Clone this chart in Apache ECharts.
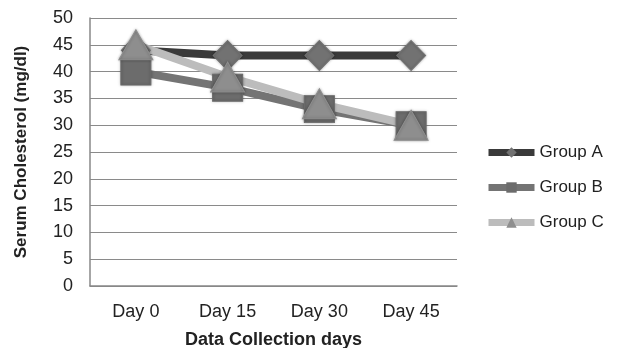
<!DOCTYPE html>
<html><head><meta charset="utf-8">
<script src="https://cdn.jsdelivr.net/npm/echarts@6/dist/echarts.min.js"></script>
<style>html,body{margin:0;padding:0;background:#fff}#c{width:620px;height:348px}</style>
</head><body><div id="c"></div>
<script>
const categories = ['Day 0', 'Day 15', 'Day 30', 'Day 45'];
const groupA = [44, 43, 43, 43];
const groupB = [40, 37, 33, 30];
const groupC = [45, 39, 34, 30];
const yTicks = [0, 5, 10, 15, 20, 25, 30, 35, 40, 45, 50];

const chart = echarts.init(document.getElementById('c'), null, {renderer: 'canvas'});
const font = 'Liberation Sans, Arial, sans-serif';
function mk(name, data, lineColor, markColor, symbol, size) {
  return {
    name, type: 'line', data, symbol, symbolSize: size,
    lineStyle: {color: lineColor, width: 8},
    itemStyle: {color: markColor, borderColor: markColor, shadowColor: 'rgba(0,0,0,0.3)', shadowBlur: 3},
    color: lineColor,
    z: 2
  };
}
chart.setOption({
  animation: false,
  grid: {left: 90, right: 163, top: 18, bottom: 62, containLabel: false, outerBoundsMode: 'none'},
  legend: {
    orient: 'vertical', left: 480, top: 139, itemGap: 18,
    itemWidth: 46, itemHeight: 13,
    lineStyle: {width: 7},
    textStyle: {fontFamily: font, fontSize: 17, color: '#222'},
    data: ['Group A', 'Group B', 'Group C']
  },
  xAxis: {
    type: 'category', data: categories, boundaryGap: true,
    name: 'Data Collection days', nameLocation: 'middle', nameGap: 45,
    nameTextStyle: {fontFamily: font, fontSize: 18, fontWeight: 'bold', color: '#222'},
    axisLine: {lineStyle: {color: '#888', width: 1.5}},
    axisTick: {show: false},
    axisLabel: {fontFamily: font, fontSize: 18, color: '#222', margin: 17}
  },
  yAxis: {
    type: 'value', min: yTicks[0], max: yTicks[yTicks.length-1], interval: 5,
    name: 'Serum Cholesterol (mg/dl)', nameLocation: 'middle', nameGap: 60,
    nameTextStyle: {fontFamily: font, fontSize: 17, fontWeight: 'bold', color: '#222'},
    axisLine: {show: true, lineStyle: {color: '#888', width: 1.5}},
    axisTick: {show: false},
    axisLabel: {fontFamily: font, fontSize: 18, color: '#222', margin: 17},
    splitLine: {lineStyle: {color: '#8a8a8a', width: 1.2}}
  },
  series: [
    mk('Group A', groupA, '#3a3a3a', '#727272', 'diamond', [29, 30]),
    mk('Group B', groupB, '#747474', '#6c6c6c', 'rect', [30, 27]),
    mk('Group C', groupC, '#bcbcbc', '#8e8e8e', 'triangle', [34, 30])
  ]
});
</script></body></html>
